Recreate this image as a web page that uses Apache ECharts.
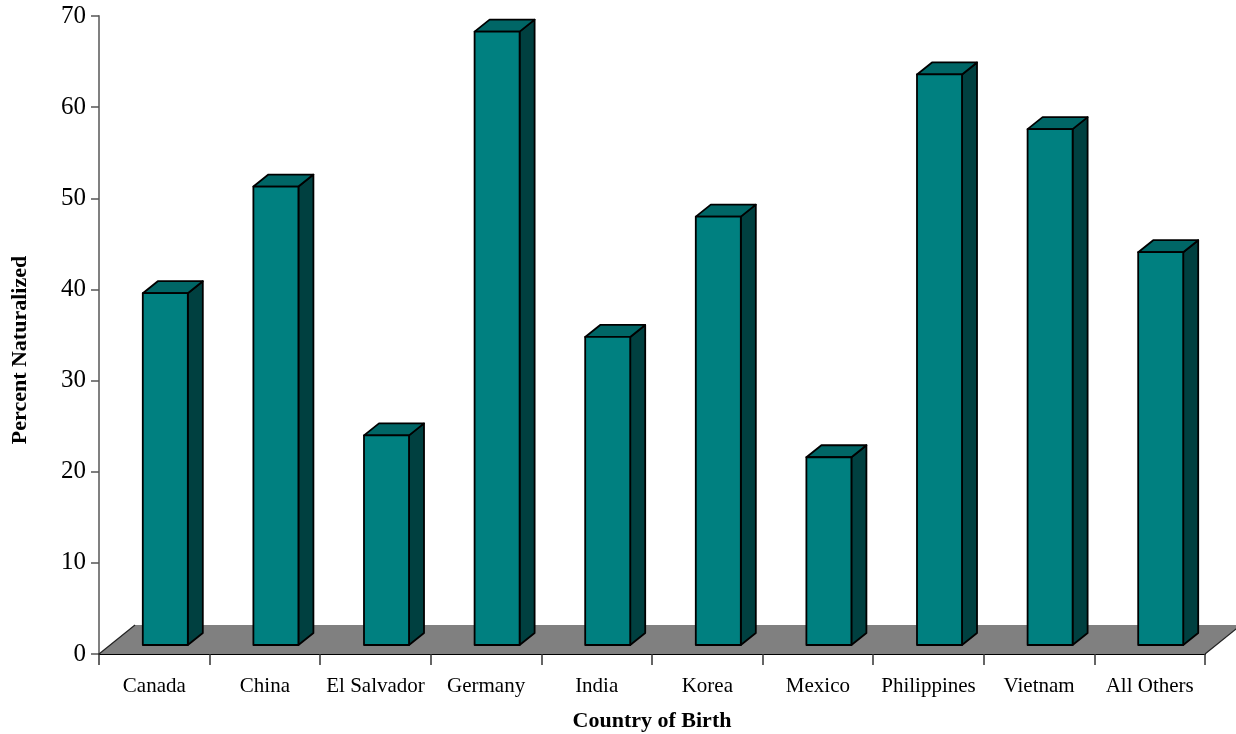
<!DOCTYPE html>
<html>
<head>
<meta charset="utf-8">
<script src="https://cdn.jsdelivr.net/npm/echarts@6/dist/echarts.min.js"></script>
<style>
  html, body { margin: 0; padding: 0; background: #fff; }
  #chart { width: 1236px; height: 734px; }
</style>
</head>
<body>
<div id="chart"></div>
<script>
// categories and values (percent naturalized)
var countries = ['Canada', 'China', 'El Salvador', 'Germany', 'India', 'Korea', 'Mexico', 'Philippines', 'Vietnam', 'All Others'];
var percentNaturalized = [38.6, 50.3, 23.0, 67.3, 33.8, 47.0, 20.6, 62.6, 56.6, 43.1];
var yTicks = [0, 10, 20, 30, 40, 50, 60, 70];

var serif = '"Liberation Serif", "Times New Roman", serif';

// 3d look (pixels)
var FLOOR_DX = 36, FLOOR_DY = -29;   // depth of the floor
var BAR_OFF_X = 11, BAR_OFF_Y = -9;  // bars sit a bit behind the front edge
var BAR_DX = 15, BAR_DY = -12;       // depth of each bar
var BAR_W = 0.407;                   // front face width, share of the band

var chart = echarts.init(document.getElementById('chart'));

function renderFloor(params, api) {
  var cs = params.coordSys;
  var y0 = api.coord([0, 0])[1];
  var xl = cs.x, xr = cs.x + cs.width;
  return {
    type: 'group',
    silent: true,
    children: [
      { type: 'polygon',
        shape: { points: [[xl, y0], [xr, y0], [xr + FLOOR_DX, y0 + FLOOR_DY], [xl + FLOOR_DX, y0 + FLOOR_DY]] },
        style: { fill: '#808080', stroke: null } },
      { type: 'polyline',
        shape: { points: [[xl + FLOOR_DX, y0 + FLOOR_DY], [xl, y0]] },
        style: { stroke: '#222', lineWidth: 1.2, fill: null } },
      { type: 'polyline',
        shape: { points: [[xr, y0], [xr + FLOOR_DX, y0 + FLOOR_DY]] },
        style: { stroke: '#222', lineWidth: 1.2, fill: null } }
    ]
  };
}

function renderBar(params, api) {
  var idx = api.value(0);
  var top = api.coord([idx, api.value(1)]);
  var base = api.coord([idx, 0]);
  var band = api.size([1, 0])[0];
  var w = band * BAR_W;
  var x0 = top[0] - w / 2 + BAR_OFF_X;
  var x1 = x0 + w;
  var yt = top[1] + BAR_OFF_Y;
  var yb = base[1] + BAR_OFF_Y;
  var line = { stroke: '#000', lineWidth: 1.8, lineJoin: 'round' };
  return {
    type: 'group',
    children: [
      { type: 'polygon', shape: { points: [[x1, yb], [x1 + BAR_DX, yb + BAR_DY], [x1 + BAR_DX, yt + BAR_DY], [x1, yt]] },
        style: Object.assign({ fill: '#004040' }, line) },
      { type: 'polygon', shape: { points: [[x0, yt], [x0 + BAR_DX, yt + BAR_DY], [x1 + BAR_DX, yt + BAR_DY], [x1, yt]] },
        style: Object.assign({ fill: '#006666' }, line) },
      { type: 'rect', shape: { x: x0, y: yt, width: w, height: yb - yt },
        style: Object.assign({ fill: '#008080' }, line) }
    ]
  };
}

var option = {
  backgroundColor: '#fff',
  animation: false,
  grid: { left: 99, right: 31, top: 16, bottom: 80, containLabel: false, outerBoundsMode: 'none' },
  graphic: [
    {
      type: 'text',
      x: 20, y: 350,
      rotation: Math.PI / 2,
      style: {
        text: 'Percent Naturalized',
        font: 'bold 22px ' + serif,
        fill: '#000',
        align: 'center',
        verticalAlign: 'middle'
      }
    }
  ],
  xAxis: {
    type: 'category',
    data: countries,
    name: 'Country of Birth',
    nameLocation: 'middle',
    nameGap: 56,
    nameTextStyle: { fontFamily: serif, fontWeight: 'bold', fontSize: 22, color: '#000' },
    axisLine: { show: true, lineStyle: { color: '#000', width: 2 } },
    axisTick: { show: true, length: 11, lineStyle: { color: '#333', width: 1.5 } },
    axisLabel: { fontFamily: serif, fontSize: 21, color: '#000', margin: 22, interval: 0 }
  },
  yAxis: {
    type: 'value',
    min: yTicks[0],
    max: yTicks[yTicks.length - 1],
    interval: 10,
    axisLine: { show: true, lineStyle: { color: '#808080', width: 2 } },
    axisTick: { show: true, length: 8, lineStyle: { color: '#555', width: 1.5 } },
    axisLabel: { fontFamily: serif, fontSize: 25, color: '#000', margin: 13 },
    splitLine: { show: false }
  },
  series: [
    {
      type: 'custom',
      name: 'floor',
      renderItem: renderFloor,
      data: [[0, 0]],
      z: 1,
      silent: true
    },
    {
      type: 'custom',
      name: 'Percent Naturalized',
      renderItem: renderBar,
      encode: { x: 0, y: 1 },
      data: percentNaturalized.map(function (v, i) { return [i, v]; }),
      z: 2
    }
  ]
};

chart.setOption(option);
</script>
</body>
</html>
